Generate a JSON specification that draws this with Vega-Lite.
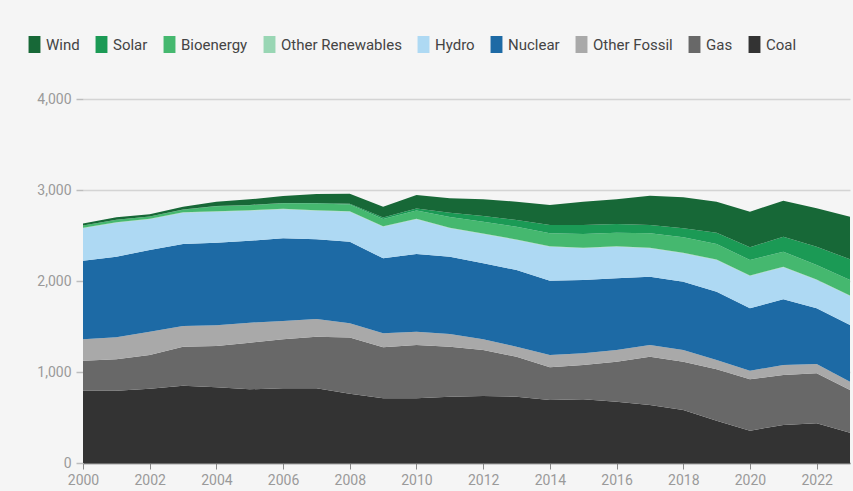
{
  "$schema": "https://vega.github.io/schema/vega-lite/v6.json",
  "autosize": {"type": "none"},
  "padding": {"left": 83, "top": 99, "right": 3, "bottom": 28},
  "width": 767,
  "height": 364,
  "background": "#f5f5f5",
  "config": {
    "view": {"stroke": null},
    "font": "Roboto"
  },
  "data": {"values": [
    {"year":2000,"source":"Coal","value":795},{"year":2000,"source":"Gas","value":329},{"year":2000,"source":"Other Fossil","value":235},{"year":2000,"source":"Nuclear","value":864},{"year":2000,"source":"Hydro","value":356},{"year":2000,"source":"Other Renewables","value":5},{"year":2000,"source":"Bioenergy","value":25},{"year":2000,"source":"Solar","value":0},{"year":2000,"source":"Wind","value":22},
    {"year":2001,"source":"Coal","value":795},{"year":2001,"source":"Gas","value":344},{"year":2001,"source":"Other Fossil","value":242},{"year":2001,"source":"Nuclear","value":886},{"year":2001,"source":"Hydro","value":374},{"year":2001,"source":"Other Renewables","value":5},{"year":2001,"source":"Bioenergy","value":28},{"year":2001,"source":"Solar","value":0},{"year":2001,"source":"Wind","value":26},
    {"year":2002,"source":"Coal","value":817},{"year":2002,"source":"Gas","value":370},{"year":2002,"source":"Other Fossil","value":256},{"year":2002,"source":"Nuclear","value":898},{"year":2002,"source":"Hydro","value":337},{"year":2002,"source":"Other Renewables","value":5},{"year":2002,"source":"Bioenergy","value":25},{"year":2002,"source":"Solar","value":0},{"year":2002,"source":"Wind","value":25},
    {"year":2003,"source":"Coal","value":850},{"year":2003,"source":"Gas","value":428},{"year":2003,"source":"Other Fossil","value":227},{"year":2003,"source":"Nuclear","value":902},{"year":2003,"source":"Hydro","value":344},{"year":2003,"source":"Other Renewables","value":5},{"year":2003,"source":"Bioenergy","value":28},{"year":2003,"source":"Solar","value":1},{"year":2003,"source":"Wind","value":32},
    {"year":2004,"source":"Coal","value":832},{"year":2004,"source":"Gas","value":454},{"year":2004,"source":"Other Fossil","value":227},{"year":2004,"source":"Nuclear","value":908},{"year":2004,"source":"Hydro","value":341},{"year":2004,"source":"Other Renewables","value":5},{"year":2004,"source":"Bioenergy","value":55},{"year":2004,"source":"Solar","value":1},{"year":2004,"source":"Wind","value":49},
    {"year":2005,"source":"Coal","value":810},{"year":2005,"source":"Gas","value":512},{"year":2005,"source":"Other Fossil","value":220},{"year":2005,"source":"Nuclear","value":901},{"year":2005,"source":"Hydro","value":330},{"year":2005,"source":"Other Renewables","value":5},{"year":2005,"source":"Bioenergy","value":55},{"year":2005,"source":"Solar","value":2},{"year":2005,"source":"Wind","value":62},
    {"year":2006,"source":"Coal","value":821},{"year":2006,"source":"Gas","value":538},{"year":2006,"source":"Other Fossil","value":201},{"year":2006,"source":"Nuclear","value":909},{"year":2006,"source":"Hydro","value":319},{"year":2006,"source":"Other Renewables","value":5},{"year":2006,"source":"Bioenergy","value":62},{"year":2006,"source":"Solar","value":3},{"year":2006,"source":"Wind","value":76},
    {"year":2007,"source":"Coal","value":821},{"year":2007,"source":"Gas","value":567},{"year":2007,"source":"Other Fossil","value":194},{"year":2007,"source":"Nuclear","value":876},{"year":2007,"source":"Hydro","value":315},{"year":2007,"source":"Other Renewables","value":5},{"year":2007,"source":"Bioenergy","value":75},{"year":2007,"source":"Solar","value":5},{"year":2007,"source":"Wind","value":98},
    {"year":2008,"source":"Coal","value":760},{"year":2008,"source":"Gas","value":620},{"year":2008,"source":"Other Fossil","value":155},{"year":2008,"source":"Nuclear","value":897},{"year":2008,"source":"Hydro","value":330},{"year":2008,"source":"Other Renewables","value":5},{"year":2008,"source":"Bioenergy","value":75},{"year":2008,"source":"Solar","value":8},{"year":2008,"source":"Wind","value":110},
    {"year":2009,"source":"Coal","value":711},{"year":2009,"source":"Gas","value":560},{"year":2009,"source":"Other Fossil","value":154},{"year":2009,"source":"Nuclear","value":824},{"year":2009,"source":"Hydro","value":348},{"year":2009,"source":"Other Renewables","value":5},{"year":2009,"source":"Bioenergy","value":80},{"year":2009,"source":"Solar","value":15},{"year":2009,"source":"Wind","value":120},
    {"year":2010,"source":"Coal","value":711},{"year":2010,"source":"Gas","value":586},{"year":2010,"source":"Other Fossil","value":146},{"year":2010,"source":"Nuclear","value":854},{"year":2010,"source":"Hydro","value":381},{"year":2010,"source":"Other Renewables","value":5},{"year":2010,"source":"Bioenergy","value":92},{"year":2010,"source":"Solar","value":22},{"year":2010,"source":"Wind","value":148},
    {"year":2011,"source":"Coal","value":729},{"year":2011,"source":"Gas","value":549},{"year":2011,"source":"Other Fossil","value":140},{"year":2011,"source":"Nuclear","value":849},{"year":2011,"source":"Hydro","value":312},{"year":2011,"source":"Other Renewables","value":5},{"year":2011,"source":"Bioenergy","value":120},{"year":2011,"source":"Solar","value":45},{"year":2011,"source":"Wind","value":160},
    {"year":2012,"source":"Coal","value":736},{"year":2012,"source":"Gas","value":506},{"year":2012,"source":"Other Fossil","value":117},{"year":2012,"source":"Nuclear","value":835},{"year":2012,"source":"Hydro","value":322},{"year":2012,"source":"Other Renewables","value":5},{"year":2012,"source":"Bioenergy","value":131},{"year":2012,"source":"Solar","value":62},{"year":2012,"source":"Wind","value":183},
    {"year":2013,"source":"Coal","value":729},{"year":2013,"source":"Gas","value":439},{"year":2013,"source":"Other Fossil","value":110},{"year":2013,"source":"Nuclear","value":843},{"year":2013,"source":"Hydro","value":330},{"year":2013,"source":"Other Renewables","value":6},{"year":2013,"source":"Bioenergy","value":140},{"year":2013,"source":"Solar","value":73},{"year":2013,"source":"Wind","value":202},
    {"year":2014,"source":"Coal","value":692},{"year":2014,"source":"Gas","value":359},{"year":2014,"source":"Other Fossil","value":136},{"year":2014,"source":"Nuclear","value":816},{"year":2014,"source":"Hydro","value":374},{"year":2014,"source":"Other Renewables","value":6},{"year":2014,"source":"Bioenergy","value":141},{"year":2014,"source":"Solar","value":91},{"year":2014,"source":"Wind","value":220},
    {"year":2015,"source":"Coal","value":700},{"year":2015,"source":"Gas","value":377},{"year":2015,"source":"Other Fossil","value":128},{"year":2015,"source":"Nuclear","value":806},{"year":2015,"source":"Hydro","value":348},{"year":2015,"source":"Other Renewables","value":6},{"year":2015,"source":"Bioenergy","value":151},{"year":2015,"source":"Solar","value":99},{"year":2015,"source":"Wind","value":257},
    {"year":2016,"source":"Coal","value":674},{"year":2016,"source":"Gas","value":439},{"year":2016,"source":"Other Fossil","value":129},{"year":2016,"source":"Nuclear","value":787},{"year":2016,"source":"Hydro","value":348},{"year":2016,"source":"Other Renewables","value":6},{"year":2016,"source":"Bioenergy","value":148},{"year":2016,"source":"Solar","value":95},{"year":2016,"source":"Wind","value":271},
    {"year":2017,"source":"Coal","value":637},{"year":2017,"source":"Gas","value":531},{"year":2017,"source":"Other Fossil","value":129},{"year":2017,"source":"Nuclear","value":750},{"year":2017,"source":"Hydro","value":312},{"year":2017,"source":"Other Renewables","value":6},{"year":2017,"source":"Bioenergy","value":159},{"year":2017,"source":"Solar","value":91},{"year":2017,"source":"Wind","value":323},
    {"year":2018,"source":"Coal","value":582},{"year":2018,"source":"Gas","value":531},{"year":2018,"source":"Other Fossil","value":129},{"year":2018,"source":"Nuclear","value":751},{"year":2018,"source":"Hydro","value":311},{"year":2018,"source":"Other Renewables","value":6},{"year":2018,"source":"Bioenergy","value":170},{"year":2018,"source":"Solar","value":99},{"year":2018,"source":"Wind","value":341},
    {"year":2019,"source":"Coal","value":465},{"year":2019,"source":"Gas","value":564},{"year":2019,"source":"Other Fossil","value":103},{"year":2019,"source":"Nuclear","value":750},{"year":2019,"source":"Hydro","value":349},{"year":2019,"source":"Other Renewables","value":6},{"year":2019,"source":"Bioenergy","value":170},{"year":2019,"source":"Solar","value":124},{"year":2019,"source":"Wind","value":341},
    {"year":2020,"source":"Coal","value":355},{"year":2020,"source":"Gas","value":564},{"year":2020,"source":"Other Fossil","value":95},{"year":2020,"source":"Nuclear","value":686},{"year":2020,"source":"Hydro","value":355},{"year":2020,"source":"Other Renewables","value":6},{"year":2020,"source":"Bioenergy","value":170},{"year":2020,"source":"Solar","value":139},{"year":2020,"source":"Wind","value":392},
    {"year":2021,"source":"Coal","value":418},{"year":2021,"source":"Gas","value":549},{"year":2021,"source":"Other Fossil","value":110},{"year":2021,"source":"Nuclear","value":722},{"year":2021,"source":"Hydro","value":351},{"year":2021,"source":"Other Renewables","value":6},{"year":2021,"source":"Bioenergy","value":166},{"year":2021,"source":"Solar","value":165},{"year":2021,"source":"Wind","value":396},
    {"year":2022,"source":"Coal","value":436},{"year":2022,"source":"Gas","value":549},{"year":2022,"source":"Other Fossil","value":103},{"year":2022,"source":"Nuclear","value":612},{"year":2022,"source":"Hydro","value":311},{"year":2022,"source":"Other Renewables","value":6},{"year":2022,"source":"Bioenergy","value":159},{"year":2022,"source":"Solar","value":201},{"year":2022,"source":"Wind","value":422},
    {"year":2023,"source":"Coal","value":333},{"year":2023,"source":"Gas","value":469},{"year":2023,"source":"Other Fossil","value":91},{"year":2023,"source":"Nuclear","value":623},{"year":2023,"source":"Hydro","value":319},{"year":2023,"source":"Other Renewables","value":6},{"year":2023,"source":"Bioenergy","value":170},{"year":2023,"source":"Solar","value":227},{"year":2023,"source":"Wind","value":469}
  ]},
  "transform": [
    {"calculate": "indexof(['Coal','Gas','Other Fossil','Nuclear','Hydro','Other Renewables','Bioenergy','Solar','Wind'], datum.source)", "as": "stackRank"}
  ],
  "mark": {"type": "area", "interpolate": "linear"},
  "encoding": {
    "x": {
      "field": "year", "type": "quantitative",
      "scale": {"domain": [2000, 2023], "nice": false, "zero": false},
      "axis": {
        "title": null, "format": "d",
        "values": [2000,2002,2004,2006,2008,2010,2012,2014,2016,2018,2020,2022],
        "grid": false, "domainColor": "#6e6e6e", "domainWidth": 1.5,
        "tickColor": "#8a8a8a", "tickSize": 6, "tickWidth": 1,
        "labelColor": "#9a9a9a", "labelFontSize": 14, "labelPadding": 4,
        "labelFont": "Roboto", "labelFlush": false
      }
    },
    "y": {
      "field": "value", "type": "quantitative", "stack": "zero",
      "scale": {"domain": [0, 4000], "nice": false},
      "axis": {
        "title": null, "format": ",.0f",
        "values": [0, 1000, 2000, 3000, 4000],
        "domain": false,
        "grid": true, "gridColor": "#d4d4d4", "gridWidth": 1.5,
        "tickColor": "#bdbdbd", "tickSize": 7, "tickWidth": 1.5,
        "labelColor": "#9a9a9a", "labelFontSize": 14, "labelPadding": 5,
        "labelFont": "Roboto", "labelFlush": false
      }
    },
    "color": {
      "field": "source", "type": "nominal",
      "scale": {
        "domain": ["Wind", "Solar", "Bioenergy", "Other Renewables", "Hydro", "Nuclear", "Other Fossil", "Gas", "Coal"],
        "range": ["#176837", "#1b9a55", "#45b86f", "#99d6b4", "#aed9f3", "#1d6aa5", "#a9a9a9", "#686868", "#333333"]
      },
      "legend": {
        "title": null,
        "orient": "none",
        "direction": "horizontal",
        "legendX": -57,
        "legendY": -63,
        "symbolType": "M-0.7,-1H0.7V1H-0.7Z",
        "symbolSize": 289,
        "symbolStrokeWidth": 0,
        "symbolOpacity": 1,
        "labelFontSize": 15,
        "labelColor": "#444444",
        "labelFont": "Roboto",
        "labelOffset": 3,
        "columnPadding": 13,
        "labelLimit": 300
      }
    },
    "order": {"field": "stackRank", "type": "quantitative", "sort": "ascending"}
  }
}
